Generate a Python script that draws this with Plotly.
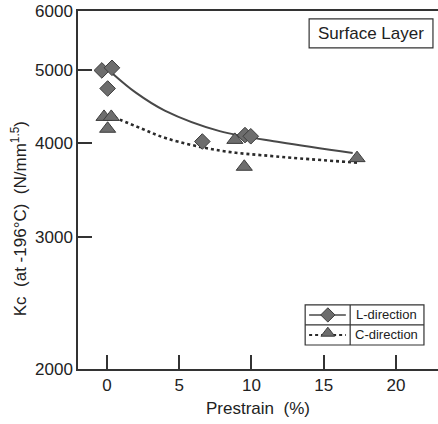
import plotly.graph_objects as go

# Data
L_x = [-0.35, 0.35, 0.05, 6.6, 9.55, 9.95]
L_y = [5000, 5040, 4730, 4020, 4100, 4085]
C_x = [-0.2, 0.3, 0.05, 8.85, 9.5, 17.3]
C_y = [4335, 4335, 4180, 4040, 3720, 3820]

# Fitted curves
Lfit_x = [0.4, 2.0, 4.0, 7.8, 12.0, 17.0]
Lfit_y = [4950, 4670, 4420, 4150, 4010, 3880]
Cfit_x = [0.5, 2.3, 4.1, 7.8, 11.7, 17.5]
Cfit_y = [4330, 4190, 4060, 3910, 3840, 3765]

x_ticks = [0, 5, 10, 15, 20]
y_ticks = [2000, 3000, 4000, 5000, 6000]

FONT = "Liberation Sans, Arial, Helvetica, sans-serif"
TXT = "#222222"
FILL = "#6d6d6d"
EDGE = "#3c3c3c"
LINE = "#484848"

fig = go.Figure()

fig.add_trace(go.Scatter(x=Lfit_x, y=Lfit_y, mode="lines",
                         line=dict(color=LINE, width=2, shape="spline", smoothing=1.0),
                         showlegend=False, hoverinfo="skip"))
fig.add_trace(go.Scatter(x=Cfit_x, y=Cfit_y, mode="lines",
                         line=dict(color="#2a2a2a", width=2.6, dash="dot", shape="spline", smoothing=1.0),
                         showlegend=False, hoverinfo="skip"))
fig.add_trace(go.Scatter(x=L_x, y=L_y, mode="markers", name="L-direction",
                         marker=dict(symbol="diamond", size=12, color=FILL,
                                     line=dict(color=EDGE, width=1)),
                         showlegend=False))
fig.add_trace(go.Scatter(x=C_x, y=C_y, mode="markers", name="C-direction",
                         marker=dict(symbol="triangle-up", size=14, color=FILL,
                                     line=dict(color=EDGE, width=1)),
                         showlegend=False))

# Legend samples on an overlay axis (0..1 in plot area)
fig.add_trace(go.Scatter(x=[0.642, 0.744], y=[0.151, 0.151], xaxis="x2", yaxis="y2",
                         mode="lines", line=dict(color=LINE, width=1.5),
                         showlegend=False, hoverinfo="skip"))
fig.add_trace(go.Scatter(x=[0.694], y=[0.151], xaxis="x2", yaxis="y2", mode="markers",
                         marker=dict(symbol="diamond", size=11, color=FILL,
                                     line=dict(color=EDGE, width=1)),
                         showlegend=False, hoverinfo="skip"))
fig.add_trace(go.Scatter(x=[0.642, 0.744], y=[0.095, 0.095], xaxis="x2", yaxis="y2",
                         mode="lines", line=dict(color="#2a2a2a", width=2, dash="dot"),
                         showlegend=False, hoverinfo="skip"))
fig.add_trace(go.Scatter(x=[0.694], y=[0.100], xaxis="x2", yaxis="y2", mode="markers",
                         marker=dict(symbol="triangle-up", size=12, color=FILL,
                                     line=dict(color=EDGE, width=1)),
                         showlegend=False, hoverinfo="skip"))

shapes = [
    dict(type="rect", xref="paper", yref="paper", x0=0.631, x1=0.961, y0=0.067, y1=0.179,
         line=dict(color="#333", width=1.2), fillcolor="rgba(0,0,0,0)"),
    dict(type="line", xref="paper", yref="paper", x0=0.756, x1=0.756, y0=0.067, y1=0.179,
         line=dict(color="#333", width=1.2)),
    dict(type="line", xref="paper", yref="paper", x0=0.631, x1=0.961, y0=0.123, y1=0.123,
         line=dict(color="#333", width=1.2)),
    dict(type="rect", xref="paper", yref="paper", x0=0.642, x1=0.986, y0=0.897, y1=0.978,
         line=dict(color="#333", width=1.2), fillcolor="rgba(0,0,0,0)"),
]

def ann(text, x, y, size, **kw):
    return dict(text=text, xref="paper", yref="paper", x=x, y=y, xanchor="center",
                yanchor="middle", showarrow=False,
                font=dict(family=FONT, size=size, color=TXT), **kw)

annotations = [
    ann("Surface Layer", 0.814, 0.937, 17),
    ann("L-direction", 0.858, 0.151, 13),
    ann("C-direction", 0.858, 0.095, 13),
    ann("Kc  (at -196°C)  (N/mm<sup>1.5</sup>)", -0.165, 0.42, 17, textangle=-90),
]

fig.update_layout(
    width=438, height=424,
    margin=dict(l=78, r=0, t=11, b=55),
    paper_bgcolor="white", plot_bgcolor="white",
    font=dict(family=FONT, size=17, color=TXT),
    shapes=shapes, annotations=annotations,
    xaxis=dict(range=[-2.0, 22.9], tickvals=x_ticks, ticks="inside", ticklen=14,
               tickwidth=1.5, tickcolor="#333", showline=True, linecolor="#333",
               linewidth=1.5, mirror=True, showgrid=False, zeroline=False,
               title=dict(text="Prestrain  (%)", font=dict(size=17), standoff=8),
               tickfont=dict(size=17)),
    yaxis=dict(type="log", range=[3.30103, 3.778151], tickvals=y_ticks,
               ticktext=[str(v) for v in y_ticks], ticks="inside", ticklen=14,
               tickwidth=1.5, tickcolor="#333", showline=True, linecolor="#333",
               linewidth=1.5, showgrid=False, zeroline=False, tickfont=dict(size=17)),
    xaxis2=dict(overlaying="x", range=[0, 1], visible=False),
    yaxis2=dict(overlaying="y", range=[0, 1], visible=False),
)

fig.write_html("out.html")
